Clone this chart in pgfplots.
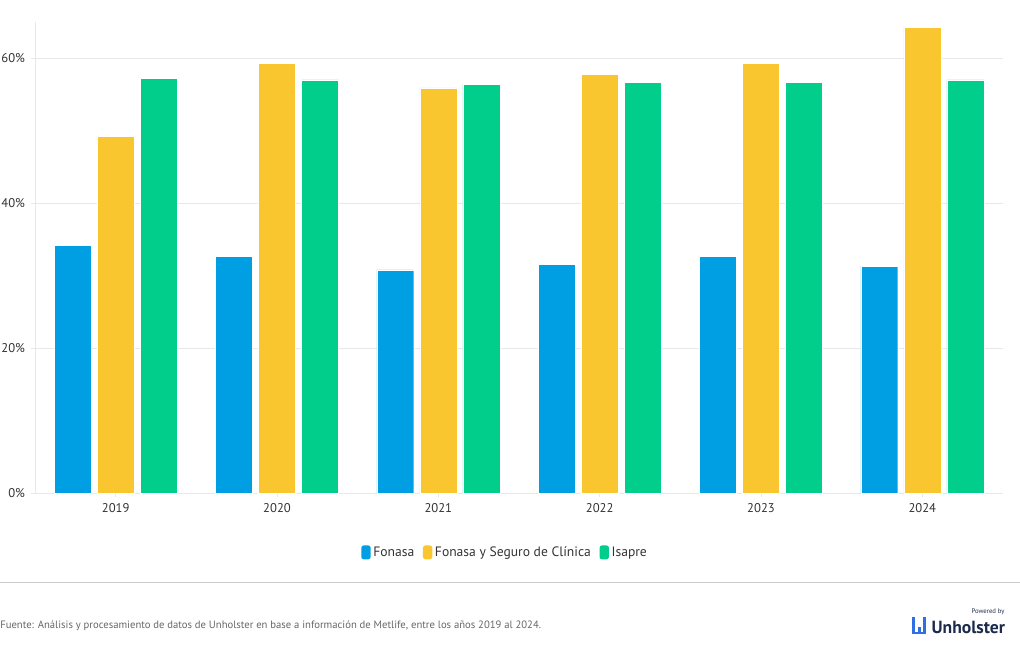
\documentclass[border=0pt]{standalone}
\usepackage{pgfplots}
\pgfplotsset{compat=1.18}
\usepackage{fontspec}
\setmainfont{PT Sans}
\definecolor{cfon}{HTML}{009EE2}
\definecolor{cseg}{HTML}{F9C62F}
\definecolor{cisa}{HTML}{00CE8A}
\definecolor{cgrid}{HTML}{E8E8E8}
\definecolor{ctxt}{HTML}{333333}
\definecolor{cfoot}{HTML}{666666}
\definecolor{cnavy}{HTML}{1C2B4C}
\definecolor{clogo}{HTML}{2F6FE0}
\pgfplotsset{/pgfplots/ybar legend/.style={/pgfplots/legend image code/.code={%
  \fill[##1,draw=none,rounded corners=1.8pt] (0pt,-5.2pt) rectangle (7pt,5.2pt);}}}
\begin{document}
\begin{tikzpicture}[x=1pt,y=1pt]
\useasboundingbox (0,0) rectangle (765,487.5);
\begin{axis}[
  at={(26.25pt,117.75pt)}, anchor=south west,
  scale only axis, width=726pt, height=353.25pt,
  xmin=-0.5, xmax=5.5, ymin=0, ymax=65,
  ybar, bar width=0.229,
  axis x line*=bottom, axis y line*=left,
  axis line style={draw=cgrid, line width=0.75pt},
  x axis line style={-}, y axis line style={-},
  ytick={0,20,40,60}, yticklabels={0\%,20\%,40\%,60\%},
  xtick={0,1,2,3,4,5}, xticklabels={2019,2020,2021,2022,2023,2024},
  ymajorgrids, grid style={draw=cgrid, line width=0.6pt},
  major tick length=3pt, tick style={draw=cgrid, line width=0.6pt},
  tick align=outside,
  ticklabel style={font=\fontsize{9.5}{11}\selectfont, text=ctxt},
  yticklabel style={xshift=-1pt},
  xticklabel style={yshift=-1pt},
  legend style={at={(0.486,-0.126)}, anchor=center, draw=none, fill=none,
    legend columns=-1, font=\fontsize{10.2}{12}\selectfont, text=ctxt,
    /tikz/every even column/.append style={column sep=4.5pt}},
  legend cell align=left,
]
\addplot[fill=cfon, draw=white, line width=0.3pt, bar shift=-0.267] coordinates {(0,34.2) (1,32.7) (2,30.8) (3,31.6) (4,32.7) (5,31.3)};
\addplot[fill=cseg, draw=white, line width=0.3pt, bar shift=0] coordinates {(0,49.2) (1,59.3) (2,55.9) (3,57.8) (4,59.3) (5,64.3)};
\addplot[fill=cisa, draw=white, line width=0.3pt, bar shift=0.267] coordinates {(0,57.2) (1,57.0) (2,56.4) (3,56.7) (4,56.7) (5,57.0)};
\legend{Fonasa, Fonasa y Seguro de Clínica, Isapre}
\end{axis}
\draw[draw=black!20, line width=0.75pt] (0,51) -- (765,51);
\node[anchor=west, inner sep=0pt, font=\fontsize{8.0}{10}\selectfont, text=cfoot] at (0,18.5) {Fuente: Análisis y procesamiento de datos de Unholster en base a información de Metlife, entre los años 2019 al 2024.};
% logo
\fill[clogo] (684,12) rectangle (686.4,24.5);
\fill[clogo] (688.2,12) rectangle (690.6,17);
\fill[clogo] (692.4,12) rectangle (694.8,24.5);
\fill[clogo] (684,12) rectangle (694.8,13.6);
\node[anchor=south east, inner sep=0pt, font=\fontsize{13.2}{14}\selectfont, text=cnavy] at (754,12) {\textbf{Unholster}};
\node[anchor=south east, inner sep=0pt, font=\fontsize{5}{6}\selectfont, text=cnavy] at (753.5,26.5) {Powered by};
\end{tikzpicture}
\end{document}
